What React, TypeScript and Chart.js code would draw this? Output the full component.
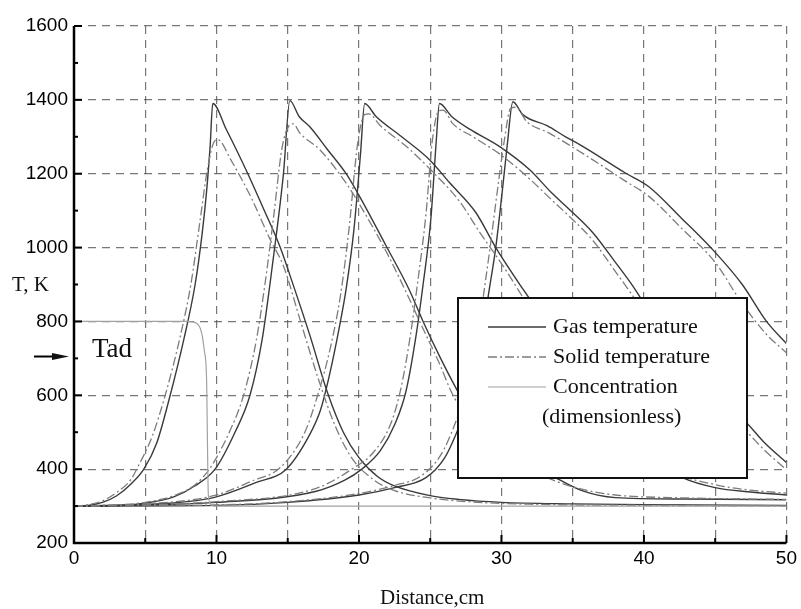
import React, { useEffect, useRef } from "react";
import { Chart, registerables } from "chart.js";
Chart.register(...registerables);

type P = [number, number];

// ---- data (Distance cm, T K) ----
const gas1: P[] = [[0,300],[1,302],[2,310],[3,328],[4,360],[4.9,400],[5.8,470],[6.75,600],[7.7,750],[8.5,900],[9.0,1040],[9.3,1150],[9.55,1272],[9.74,1390],[10.7,1319],[12.2,1200],[13.3,1105],[14.45,1003],[15.4,897],[16.55,763],[17.8,606],[18.9,500],[20,431],[21.3,380],[22.4,356],[24.9,329],[27,318],[30,310],[35,306],[40,304],[50,302]];
const solid1: P[] = [[0,300],[1,304],[2,314],[3,337],[4,372],[4.4,400],[5.5,490],[6.4,600],[7.4,750],[8.2,900],[8.8,1060],[9.4,1220],[9.9,1290],[10.1,1292],[11,1238],[12.5,1130],[13.75,1023],[14.7,950],[15.9,800],[17.1,650],[18.3,520],[19.5,430],[21,372],[22.5,342],[25,322],[28,311],[32,305],[40,302],[50,300]];
const gas2: P[] = [[0,300],[3,302],[5,308],[7,325],[8.5,355],[9.9,400],[11.3,500],[12.35,600],[13.2,750],[13.75,900],[14.25,1050],[14.7,1200],[15.15,1398],[15.8,1355],[16.55,1327],[17.8,1265],[19.1,1200],[20.05,1138],[21.9,1005],[23.5,888],[24.5,800],[25.6,710],[26.8,620],[28,540],[29.3,480],[31,430],[33.35,386],[35.7,341],[38,323],[43,319],[50,317]];
const solid2: P[] = [[0,300],[3,303],[5,310],[7,328],[8.5,358],[9.5,400],[10.9,500],[11.9,600],[12.8,750],[13.4,900],[14.0,1080],[14.6,1270],[15.1,1330],[15.4,1335],[15.85,1310],[17.25,1265],[19,1180],[20.3,1100],[21.9,990],[23.3,880],[24.5,780],[25.6,690],[26.6,600],[28,520],[29.5,460],[31,415],[33.5,372],[35.7,345],[38,330],[43,322],[50,318]];
const gas3: P[] = [[0,300],[5,304],[9.8,323],[12.8,364],[14.9,400],[16.55,494],[17.3,560],[17.9,650],[18.6,780],[19.1,888],[19.65,1050],[20.1,1250],[20.4,1390],[21.2,1355],[23,1300],[24.95,1238],[26.35,1176],[28.2,1095],[29.6,1000],[31.5,888],[34,750],[36.5,610],[39,490],[41.5,405],[42.7,377],[45,350],[47.5,338],[50,330]];
const solid3: P[] = [[0,300],[5,306],[9.8,328],[12.5,368],[14.5,405],[16.2,500],[17.1,600],[18.0,730],[18.7,870],[19.3,1050],[19.9,1280],[20.4,1360],[20.7,1362],[21.5,1330],[23.5,1268],[25.3,1200],[27,1128],[28.5,1040],[30.2,945],[32,835],[34.3,700],[36.7,570],[39.3,460],[42,392],[45,358],[47.5,343],[50,335]];
const gas4: P[] = [[0,300],[10,310],[17,340],[19,370],[20.2,400],[21.5,450],[22.5,520],[23.3,611],[24,760],[24.5,900],[25.05,1080],[25.4,1275],[25.65,1390],[26.5,1355],[27.8,1320],[29.85,1274],[32,1210],[33.5,1149],[34.75,1104],[36.4,1041],[38,960],[39.2,897],[41,790],[43.3,680],[45.3,590],[47.1,530],[48.5,470],[50,418]];
const solid4: P[] = [[0,300],[10,312],[17,348],[19.5,400],[21,445],[22.2,520],[22.9,611],[23.6,760],[24.1,900],[24.7,1090],[25.15,1290],[25.6,1370],[25.9,1372],[26.6,1335],[28,1300],[30,1250],[32,1185],[33.5,1130],[34.75,1085],[36.4,1020],[38,935],[39.2,870],[41,765],[43.3,655],[45.3,565],[47.1,505],[48.5,450],[50,398]];
const gas5: P[] = [[0,300],[10,302],[15,310],[20,330],[22.5,350],[24.7,377],[26,430],[26.8,494],[27.8,600],[28.6,750],[29.15,888],[29.6,1000],[30.05,1150],[30.4,1275],[30.8,1395],[31.5,1360],[33.2,1330],[34.5,1300],[35.7,1274],[38.7,1202],[40.3,1166],[42.7,1077],[45,987],[46.9,900],[48.6,800],[50,740]];
const solid5: P[] = [[0,300],[10,303],[15,312],[20,334],[22.5,356],[24.3,380],[25.6,430],[26.4,490],[27.4,600],[28.3,750],[28.8,888],[29.2,1000],[29.7,1150],[30.2,1290],[30.65,1378],[31.0,1380],[31.8,1340],[33.35,1310],[35.7,1255],[38.7,1180],[40.3,1140],[42.7,1050],[45,960],[46.9,848],[48.6,765],[50,715]];
const conc1: P[] = [[0,800],[7.9,800],[8.6,795],[8.95,770],[9.15,720],[9.3,650],[9.43,330],[9.6,305],[9.8,300],[50,300]];

const gasSeries = [gas1, gas2, gas3, gas4, gas5];
const solidSeries = [solid1, solid2, solid3, solid4, solid5];
const concSeries = [conc1];

const legendLabels = ["Gas temperature", "Solid temperature", "Concentration", "(dimensionless)"];
const xLabelValues = [0, 10, 20, 30, 40, 50];
const yLabelValues = [200, 400, 600, 800, 1000, 1200, 1400, 1600];
const tadValue = 705;

const GAS_COLOR = "#3a3a3a";
const SOLID_COLOR = "#7c7c7c";
const CONC_COLOR = "#a2a2a2";
const SOLID_DASH = [9, 3, 2, 3];

const toXY = (a: P[]) => a.map(([x, y]) => ({ x, y }));

const decor = {
  id: "decor",
  afterDraw(chart: any) {
    const { ctx, chartArea, scales } = chart;
    const { left, right, top, bottom } = chartArea;
    const xs = scales.x, ys = scales.y;
    ctx.save();
    ctx.setLineDash([]);
    // axes
    ctx.strokeStyle = "#000";
    ctx.lineWidth = 2.5;
    ctx.beginPath();
    ctx.moveTo(left, top);
    ctx.lineTo(left, bottom);
    ctx.lineTo(right, bottom);
    ctx.stroke();
    // inward ticks
    ctx.lineWidth = 2;
    for (let v = 200; v <= 1600; v += 100) {
      const py = ys.getPixelForValue(v);
      const len = v % 200 === 0 ? 8 : 4;
      ctx.beginPath(); ctx.moveTo(left, py); ctx.lineTo(left + len, py); ctx.stroke();
    }
    for (let v = 0; v <= 50; v += 5) {
      const px = xs.getPixelForValue(v);
      const len = v % 10 === 0 ? 8 : 5;
      ctx.beginPath(); ctx.moveTo(px, bottom); ctx.lineTo(px, bottom - len); ctx.stroke();
    }
    // axis titles
    ctx.fillStyle = "#111";
    ctx.font = '21px "Liberation Serif"';
    ctx.textAlign = "left";
    ctx.textBaseline = "alphabetic";
    ctx.fillText("T, K", 12, 291);
    ctx.textAlign = "center";
    ctx.fillText("Distance,cm", (left + right) / 2 + 2, 604);
    // Tad marker
    const ty = ys.getPixelForValue(tadValue);
    ctx.textAlign = "left";
    ctx.font = '27px "Liberation Serif"';
    ctx.fillText("Tad", 92, ty);
    ctx.lineWidth = 2;
    ctx.beginPath(); ctx.moveTo(34, ty); ctx.lineTo(58, ty); ctx.stroke();
    ctx.beginPath();
    ctx.moveTo(52, ty - 3.5); ctx.lineTo(69, ty); ctx.lineTo(52, ty + 3.5); ctx.closePath();
    ctx.fill();
    // legend box
    const bx = 458, by = 298, bw = 289, bh = 180;
    ctx.fillStyle = "#fff";
    ctx.fillRect(bx, by, bw, bh);
    ctx.strokeStyle = "#111";
    ctx.lineWidth = 2;
    ctx.strokeRect(bx, by, bw, bh);
    const rows = [by + 29, by + 59, by + 89];
    const styles = [
      { c: GAS_COLOR, d: [] as number[], w: 1.4 },
      { c: SOLID_COLOR, d: SOLID_DASH, w: 1.3 },
      { c: CONC_COLOR, d: [] as number[], w: 1.2 },
    ];
    styles.forEach((s, i) => {
      ctx.strokeStyle = s.c; ctx.lineWidth = s.w; ctx.setLineDash(s.d);
      ctx.beginPath(); ctx.moveTo(bx + 30, rows[i]); ctx.lineTo(bx + 88, rows[i]); ctx.stroke();
    });
    ctx.setLineDash([]);
    ctx.fillStyle = "#111";
    ctx.font = '22px "Liberation Serif"';
    ctx.textBaseline = "middle";
    ctx.fillText(legendLabels[0], bx + 95, rows[0]);
    ctx.fillText(legendLabels[1], bx + 95, rows[1]);
    ctx.fillText(legendLabels[2], bx + 95, rows[2]);
    ctx.fillText(legendLabels[3], bx + 84, by + 119);
    ctx.restore();
  },
};

export default function App() {
  const ref = useRef<HTMLCanvasElement | null>(null);
  useEffect(() => {
    if (!ref.current) return;
    const datasets: any[] = [];
    concSeries.forEach((s, i) =>
      datasets.push({ label: "Concentration (dimensionless) " + (i + 1), data: toXY(s), borderColor: CONC_COLOR, borderWidth: 1.2 })
    );
    solidSeries.forEach((s, i) =>
      datasets.push({ label: "Solid temperature " + (i + 1), data: toXY(s), borderColor: SOLID_COLOR, borderWidth: 1.3, borderDash: SOLID_DASH })
    );
    gasSeries.forEach((s, i) =>
      datasets.push({ label: "Gas temperature " + (i + 1), data: toXY(s), borderColor: GAS_COLOR, borderWidth: 1.4 })
    );
    datasets.forEach((d) => {
      d.pointRadius = 0;
      d.fill = false;
      d.cubicInterpolationMode = "monotone";
    });
    const chart = new Chart(ref.current, {
      type: "line",
      data: { datasets },
      plugins: [decor],
      options: {
        responsive: false,
        animation: false,
        layout: { padding: { top: 26, right: 13, left: 0, bottom: 0 } },
        plugins: { legend: { display: false }, tooltip: { enabled: false } },
        scales: {
          x: {
            type: "linear",
            min: 0,
            max: 50,
            afterFit: (s: any) => { s.height = 66; },
            ticks: {
              stepSize: 5,
              padding: 4,
              color: "#000",
              font: { family: "Liberation Sans", size: 19 },
              callback: (v: any) => (xLabelValues.includes(Number(v)) ? String(v) : ""),
            },
            grid: { color: "rgba(85,85,85,0.8)", lineWidth: 1.2, drawTicks: false },
            border: { display: false, dash: [8, 6] },
          },
          y: {
            type: "linear",
            min: 200,
            max: 1600,
            afterFit: (s: any) => { s.width = 74; },
            ticks: {
              stepSize: 200,
              padding: 6,
              color: "#000",
              font: { family: "Liberation Sans", size: 19 },
              callback: (v: any) => (yLabelValues.includes(Number(v)) ? String(v) : ""),
            },
            grid: { color: "rgba(85,85,85,0.8)", lineWidth: 1.2, drawTicks: false },
            border: { display: false, dash: [8, 6] },
          },
        },
      },
    });
    return () => chart.destroy();
  }, []);
  return (
    <div style={{ position: "absolute", left: 0, top: 0, width: 801, height: 609, background: "#fff" }}>
      <canvas ref={ref} width={801} height={609} />
    </div>
  );
}
